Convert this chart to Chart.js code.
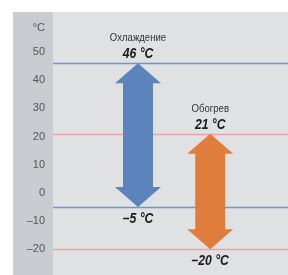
<!DOCTYPE html>
<html><head><meta charset="utf-8">
<script src="https://cdn.jsdelivr.net/npm/chart.js@4/dist/chart.umd.min.js"></script>
<style>html,body{margin:0;padding:0;background:#fff}#wrap{width:288px;height:275px;position:relative}</style>
</head><body><div id="wrap"><canvas id="c" width="288" height="275"></canvas></div>
<script>
const modes = ['Охлаждение', 'Обогрев'];
const lowTemps = [-5, -20];
const highTemps = [46, 21];
const positions = [1, 2];
const tickValues = [-20, -10, 0, 10, 20, 30, 40, 50, 58.5];
const unitLabel = '°C';
const arrowColors = ['#5a84bb', '#e07d3c'];
const lineColors = ['#5f9dd6', '#f2a1a4'];

const FONT = '"Liberation Sans", Arial, sans-serif';
const SQ = 0.87;

function squeezedText(ctx, txt, x, y) {
  ctx.save();
  ctx.translate(x, y);
  ctx.scale(SQ, 1);
  ctx.fillText(txt, 0, 0);
  ctx.restore();
}

const bgPlugin = {
  id: 'bg',
  beforeDraw(chart) {
    const {ctx, chartArea: a} = chart;
    ctx.save();
    ctx.fillStyle = '#ffffff';
    ctx.fillRect(0, 0, chart.width, chart.height);
    ctx.fillStyle = '#c9ccd0';
    ctx.fillRect(13, a.top, a.left - 13, chart.height - a.top);
    ctx.fillStyle = '#e0e1e3';
    ctx.fillRect(a.left, a.top, a.right - a.left, chart.height - a.top);
    ctx.restore();
  },
  beforeDatasetsDraw(chart) {
    const {ctx, chartArea: a, scales: {y}} = chart;
    ctx.save();
    ctx.lineWidth = 1.6;
    modes.forEach((m, i) => {
      ctx.strokeStyle = lineColors[i];
      [highTemps[i], lowTemps[i]].forEach(v => {
        const py = Math.round(y.getPixelForValue(v)) + 0.5;
        ctx.beginPath();
        ctx.moveTo(a.left, py);
        ctx.lineTo(a.right, py);
        ctx.stroke();
      });
    });
    ctx.restore();
  },
  afterDatasetsDraw(chart) {
    const {ctx} = chart;
    const meta = chart.getDatasetMeta(0);
    ctx.save();
    meta.data.forEach((el, i) => {
      const x = el.x;
      const top = Math.min(el.y, el.base);
      const bot = Math.max(el.y, el.base);
      const sw = 15, hw = 23, hh = 20;
      ctx.fillStyle = arrowColors[i];
      ctx.beginPath();
      ctx.moveTo(x, top);
      ctx.lineTo(x + hw, top + hh);
      ctx.lineTo(x + sw, top + hh);
      ctx.lineTo(x + sw, bot - hh);
      ctx.lineTo(x + hw, bot - hh);
      ctx.lineTo(x, bot);
      ctx.lineTo(x - hw, bot - hh);
      ctx.lineTo(x - sw, bot - hh);
      ctx.lineTo(x - sw, top + hh);
      ctx.lineTo(x - hw, top + hh);
      ctx.closePath();
      ctx.fill();

      ctx.textAlign = 'center';
      ctx.textBaseline = 'middle';
      ctx.fillStyle = '#333333';
      ctx.font = '11px ' + FONT;
      squeezedText(ctx, modes[i], x, top - 25);
      ctx.fillStyle = '#1a1a1a';
      ctx.font = 'italic bold 14px ' + FONT;
      squeezedText(ctx, highTemps[i] + ' ' + unitLabel, x, top - 9);
      squeezedText(ctx, String(lowTemps[i]).replace('-', '–') + ' ' + unitLabel, x, bot + 12);
    });
    ctx.restore();
  }
};

new Chart(document.getElementById('c'), {
  type: 'bar',
  data: {
    datasets: [{
      data: positions.map((p, i) => ({x: p, y: [lowTemps[i], highTemps[i]]})),
      backgroundColor: 'rgba(0,0,0,0)',
      barThickness: 30
    }]
  },
  options: {
    responsive: false,
    animation: false,
    events: [],
    layout: {padding: {top: 12, left: 13, right: 0, bottom: 0}},
    plugins: {legend: {display: false}, tooltip: {enabled: false}},
    scales: {
      x: {type: 'linear', min: 0.23, max: 2.67, display: false},
      y: {
        min: -29.1, max: 64.2,
        grid: {display: false, drawTicks: false},
        border: {display: false},
        afterFit(s) { s.width = 40; s.paddingTop = 0; s.paddingBottom = 0; },
        afterBuildTicks(s) { s.ticks = tickValues.map(v => ({value: v})); },
        ticks: {
          padding: 8,
          color: '#555555',
          font: {family: FONT, size: 11},
          callback: v => v === 58.5 ? unitLabel : (v < 0 ? '–' + Math.abs(v) : String(v))
        }
      }
    }
  },
  plugins: [bgPlugin]
});
</script></body></html>
